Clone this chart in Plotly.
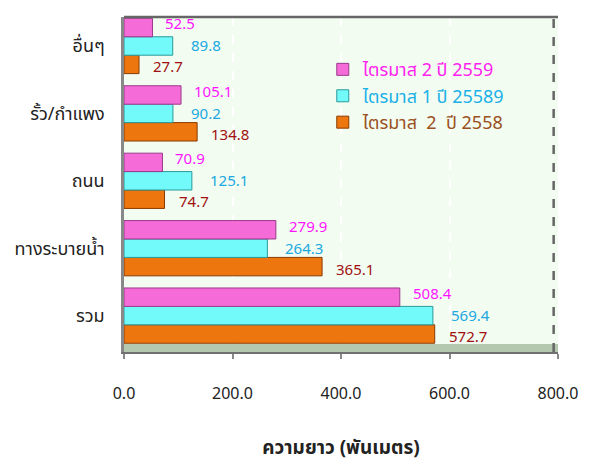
import plotly.graph_objects as go

categories = ["รวม", "ทางระบายน้ำ", "ถนน", "รั้ว/กำแพง", "อื่นๆ"]
s2559 = [508.4, 279.9, 70.9, 105.1, 52.5]
s25589 = [569.4, 264.3, 125.1, 90.2, 89.8]
s2558 = [572.7, 365.1, 74.7, 134.8, 27.7]
names = ["ไตรมาส  2  ปี 2558", "ไตรมาส 1 ปี 25589", "ไตรมาส 2 ปี 2559"]
x_ticks = [0, 200, 400, 600, 800]

FONT = "Tahoma, 'Noto Sans Thai', 'Noto Sans', 'DejaVu Sans', sans-serif"

# values, name, fill, outline, label colour, legend colour, label x/y shift
series = [
    (s2558, names[0], "#ee760e", "#8a3a00", "#a01010", "#9a5020", 12, -22),
    (s25589, names[1], "#72fafa", "#2a9a9a", "#20a8e0", "#1ab0e8", 16, -1),
    (s2559, names[2], "#f56cd8", "#9a3a8a", "#ff14ff", "#ff22ee", 11, 21),
]

fig = go.Figure()
annotations = []
for vals, nm, col, lcol, tcol, legcol, xs, ys in series:
    fig.add_trace(go.Bar(
        y=categories, x=vals, orientation="h",
        name=f"<span style='color:{legcol}'>{nm}</span>",
        marker=dict(color=col, line=dict(color=lcol, width=1)),
        hoverinfo="x+y",
    ))
    for c, v in zip(categories, vals):
        annotations.append(dict(
            x=v, y=c, xref="x", yref="y", text=f"{v:.1f}", showarrow=False,
            xanchor="left", yanchor="middle", xshift=xs, yshift=ys,
            font=dict(color=tcol, size=15, family=FONT),
        ))

fig.update_layout(
    width=593, height=463,
    margin=dict(l=124, r=35, t=17, b=111, autoexpand=False),
    barmode="group", bargap=0.18, bargroupgap=0.0,
    plot_bgcolor="#f2fcf1", paper_bgcolor="white",
    font=dict(family=FONT, size=14, color="#222"),
    annotations=annotations,
    legend=dict(
        x=0.458, y=0.898, xanchor="left", yanchor="top",
        traceorder="reversed", bgcolor="rgba(0,0,0,0)",
        font=dict(size=18, family=FONT), itemwidth=30, tracegroupgap=0,
    ),
    xaxis=dict(
        range=[0, 800], tickvals=x_ticks,
        ticktext=[f"{v:.1f}" for v in x_ticks],
        showgrid=True, gridcolor="white", griddash="dash", gridwidth=1.5,
        zeroline=False, showline=True, linecolor="#707070", linewidth=2,
        ticks="outside", ticklen=5, tickcolor="#888", tickwidth=2,
        ticklabelstandoff=21, automargin=False,
        tickfont=dict(size=16, color="#222"),
        title=dict(text="<b>ความยาว (พันเมตร)</b>", standoff=42,
                   font=dict(size=19, color="#222")),
    ),
    yaxis=dict(
        range=[-0.54, 4.43],
        showline=True, linecolor="#888", linewidth=2.5,
        tickfont=dict(size=18, color="#222"), ticks="", ticklabelstandoff=13,
        showgrid=False, automargin=False,
    ),
    shapes=[
        # floor band of the 3-D plot
        dict(type="rect", xref="paper", yref="paper", ysizemode="pixel",
             yanchor=0, x0=0, x1=1, y0=0, y1=8, fillcolor="#b4c8b0",
             line=dict(width=0), layer="above"),
        dict(type="line", xref="paper", yref="paper", x0=0, x1=1, y0=1, y1=1,
             line=dict(color="#666", width=2.5)),
        dict(type="line", xref="paper", yref="paper", x0=0.99, x1=0.99, y0=0, y1=1,
             line=dict(color="#666", width=2.5, dash="dash")),
    ],
)

fig.write_html("out.html", config={"displayModeBar": False},
               post_script="document.body.style.margin='0px';")
